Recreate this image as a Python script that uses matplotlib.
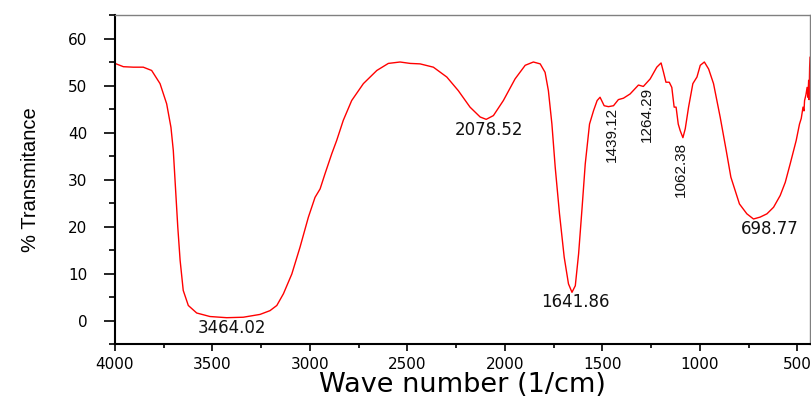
import matplotlib.pyplot as plt
import numpy as np
from matplotlib import font_manager
from matplotlib.ticker import MultipleLocator

# FTIR spectrum
wavenumber = [4000, 3957, 3906, 3855, 3812, 3769, 3735, 3713, 3701, 3689,
              3678, 3666, 3650, 3624, 3581, 3513, 3427, 3342, 3256, 3205,
              3170, 3136, 3093, 3051, 3008, 2974, 2948, 2923, 2888, 2863,
              2829, 2786, 2726, 2657, 2598, 2538, 2486, 2435, 2367, 2298,
              2239, 2179, 2127, 2096, 2059, 2008, 1948, 1896, 1854, 1819,
              1794, 1777, 1759, 1742, 1720, 1696, 1674, 1656, 1639, 1622,
              1604, 1588, 1566, 1545, 1527, 1512, 1491, 1469, 1443, 1418,
              1392, 1358, 1315, 1290, 1255, 1221, 1199, 1187, 1174, 1157,
              1144, 1132, 1122, 1111, 1101, 1087, 1075, 1058, 1036, 1015,
              998, 977, 955, 930, 896, 865, 841, 797, 759, 725,
              691, 656, 622, 588, 562, 537, 519, 506, 489, 480,
              471, 466, 463, 456, 450, 446, 442, 440, 437, 435]
transmittance = [54.7, 54.0, 53.9, 53.9, 53.2, 50.4, 46.1, 41.1, 36.2, 27.7,
                 19.9, 12.8, 6.4, 3.2, 1.6, 0.85, 0.6, 0.7, 1.3, 2.1,
                 3.2, 5.7, 9.9, 15.6, 22.0, 26.2, 28.0, 31.2, 35.5, 38.3,
                 42.6, 46.8, 50.4, 53.2, 54.7, 55.0, 54.7, 54.6, 53.9, 51.8,
                 48.9, 45.4, 43.3, 42.8, 43.6, 46.8, 51.4, 54.3, 55.0, 54.6,
                 52.8, 48.9, 41.8, 32.6, 22.7, 13.5, 7.8, 6.0, 7.4, 14.2,
                 24.1, 33.3, 41.8, 44.7, 46.8, 47.5, 45.7, 45.5, 45.7, 47.0,
                 47.3, 48.2, 50.1, 49.8, 51.4, 53.9, 54.8, 52.9, 50.7, 50.7,
                 49.6, 45.4, 45.4, 41.8, 40.4, 38.9, 40.8, 45.4, 50.4, 51.8,
                 54.3, 55.0, 53.5, 50.4, 43.3, 36.2, 30.5, 24.8, 22.7, 21.6,
                 22.0, 22.7, 24.1, 26.6, 29.4, 33.3, 36.2, 38.3, 41.8, 43.0,
                 45.4, 44.6, 46.8, 48.0, 49.6, 47.5, 51.1, 47.0, 53.9, 56.0]

peak_labels = ["3464.02", "2078.52", "1641.86", "1439.12", "1264.29", "1062.38", "698.77"]
peak_x = [3400, 2081, 1640, 1450, 1270, 1096, 644]
peak_y = [-1.5, 40.6, 4.0, 39.6, 43.8, 32.1, 19.4]
peak_rot = [0, 0, 0, 90, 90, 90, 0]

names = {f.name for f in font_manager.fontManager.ttflist}
if "Liberation Sans Narrow" in names:
    narrow, rot_size, ylab_size = "Liberation Sans Narrow", 13.5, 17
else:
    narrow, rot_size, ylab_size = "Liberation Sans", 11, 14.5

fig = plt.figure(figsize=(8.11, 3.99), dpi=100)
ax = fig.add_axes([0.1418, 0.1378, 0.8570, 0.8246])

ax.plot(wavenumber, transmittance, color="red", lw=1)

for lab, px, py, rot in zip(peak_labels, peak_x, peak_y, peak_rot):
    if rot:
        ax.text(px, py, lab, rotation=90, ha="center", va="center",
                family=narrow, fontsize=rot_size, color="#111111")
    else:
        ax.text(px, py, lab, ha="center", va="center",
                family="DejaVu Sans", fontsize=12, color="#111111")

ax.set_xlim(4000, 435)
ax.set_ylim(-5, 65)
ax.xaxis.set_major_locator(MultipleLocator(500))
ax.xaxis.set_minor_locator(MultipleLocator(250))
ax.yaxis.set_major_locator(MultipleLocator(10))
ax.yaxis.set_minor_locator(MultipleLocator(5))
ax.tick_params(which="both", direction="out", width=1.2, labelsize=11)
ax.tick_params(axis="x", which="major", length=5, pad=4)
ax.tick_params(axis="x", which="minor", length=3)
ax.tick_params(axis="y", which="major", length=8, pad=12)
ax.tick_params(axis="y", which="minor", length=4)
ax.tick_params(top=False, right=False, which="both")

for s in ["left", "bottom"]:
    ax.spines[s].set_linewidth(1.5)
    ax.spines[s].set_color("black")
for s in ["top", "right"]:
    ax.spines[s].set_linewidth(1)
    ax.spines[s].set_color("#808080")

ax.set_xlabel("Wave number (1/cm)", fontsize=19.5, family="DejaVu Sans", labelpad=0)
ax.set_ylabel("% Transmitance", fontsize=ylab_size, family=narrow, labelpad=20)

fig.savefig("out.png", dpi=100)
